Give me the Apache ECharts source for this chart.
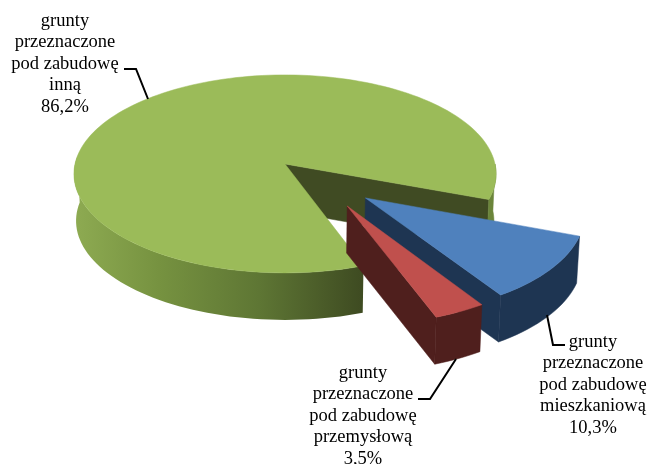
<!DOCTYPE html>
<html>
<head>
<meta charset="utf-8">
<style>html,body{margin:0;padding:0;background:#fff}#c{width:649px;height:464px}</style>
<script src="https://cdn.jsdelivr.net/npm/echarts@6/dist/echarts.min.js"></script>
</head>
<body>
<div id="c"></div>
<script>
var categories = [
  'grunty\nprzeznaczone\npod zabudowę\ninną',
  'grunty\nprzeznaczone\npod zabudowę\nmieszkaniową',
  'grunty\nprzeznaczone\npod zabudowę\nprzemysłową'
];
var values = [86.2, 10.3, 3.5];

var topColors = ['#9BBB59', '#4F81BD', '#C0504D'];
var wallColors = ['#404B23', '#1E3552', '#4F1F1D'];
var explode = [[0, 0], [0.37, 0.335], [0.284, 0.411]];
var labelPos = [[65, 64], [593, 385], [363, 416]];
var leaders = [
  [[148, 99], [136, 69], [124, 69]],
  [[547, 315], [553, 345], [565, 345]],
  [[456, 359], [430, 399], [418, 399]]
];

var CX = 285, CY = 164, RX = 210, RY = 98, K = 0.1, DEPTH = 47, SHRINK = 0.99, START = 70.2;
var total = values.reduce(function (a, b) { return a + b; }, 0);

function project(X, Y, bottom) {
  var s = 1 / (1 - K * Y);
  var x = RX * X * s, y = RY * Y * s;
  if (bottom) return [CX + x * SHRINK, CY + y + DEPTH];
  return [CX + x, CY + y];
}
function rim(e, deg, bottom) {
  var t = deg * Math.PI / 180;
  return project(e[0] + Math.cos(t), e[1] + Math.sin(t), bottom);
}
function arc(e, a, b, bottom) {
  var pts = [], n = Math.max(2, Math.ceil(Math.abs(b - a) / 2));
  for (var i = 0; i <= n; i++) pts.push(rim(e, a + (b - a) * i / n, bottom));
  return pts;
}
function outerWall(e, a, b, fill, stroke) {
  return {
    type: 'polygon', silent: true,
    shape: { points: arc(e, a, b, false).concat(arc(e, b, a, true)) },
    style: { fill: fill, stroke: stroke || null, lineWidth: 0.5 }
  };
}
function radialWall(e, deg, fill) {
  return {
    type: 'polygon', silent: true,
    shape: { points: [project(e[0], e[1], false), rim(e, deg, false), rim(e, deg, true), project(e[0], e[1], true)] },
    style: { fill: fill, stroke: fill, lineWidth: 0.5 }
  };
}

function renderSlice(params, api) {
  var i = params.dataIndex;
  var before = 0;
  for (var j = 0; j < i; j++) before += values[j];
  var a = START + before / total * 360;
  var b = a + api.value(0) / total * 360;
  var e = explode[i];
  var kids = [];
  if (i === 0) {
    kids.push(radialWall(e, b, wallColors[i]));
    kids.push(outerWall(e, 360, b, '#6B853A', '#6B853A'));
    kids.push(outerWall(e, a, 185, new echarts.graphic.LinearGradient(360, 0, 73, 0, [
      { offset: 0, color: '#3F4C22' },
      { offset: 0.35, color: '#5E7634' },
      { offset: 0.7, color: '#769240' },
      { offset: 1, color: '#8EAB52' }
    ], true)));
  } else {
    kids.push(outerWall(e, a, b, wallColors[i], wallColors[i]));
    kids.push(radialWall(e, b, wallColors[i]));
  }
  kids.push({
    type: 'polygon', silent: true,
    shape: { points: [project(e[0], e[1], false)].concat(arc(e, a, b, false)) },
    style: { fill: topColors[i], stroke: topColors[i], lineWidth: 0.5 }
  });
  kids.push({
    type: 'polyline', silent: true,
    shape: { points: leaders[i] },
    style: { fill: null, stroke: '#000', lineWidth: 2 }
  });
  kids.push({
    type: 'text', silent: true,
    style: {
      text: categories[i] + '\n' + api.value(0).toFixed(1).replace('.', ',') + '%',
      x: labelPos[i][0], y: labelPos[i][1],
      align: 'center', verticalAlign: 'middle',
      fontFamily: '"Liberation Serif"', fontSize: 18.5, lineHeight: 21.5, fill: '#000'
    }
  });
  return { type: 'group', children: kids };
}

var chart = echarts.init(document.getElementById('c'));
chart.setOption({
  backgroundColor: '#fff',
  animation: false,
  series: [{
    type: 'custom',
    coordinateSystem: 'none',
    renderItem: renderSlice,
    data: values.map(function (v) { return [v]; }),
    clip: false
  }]
});
</script>
</body>
</html>
